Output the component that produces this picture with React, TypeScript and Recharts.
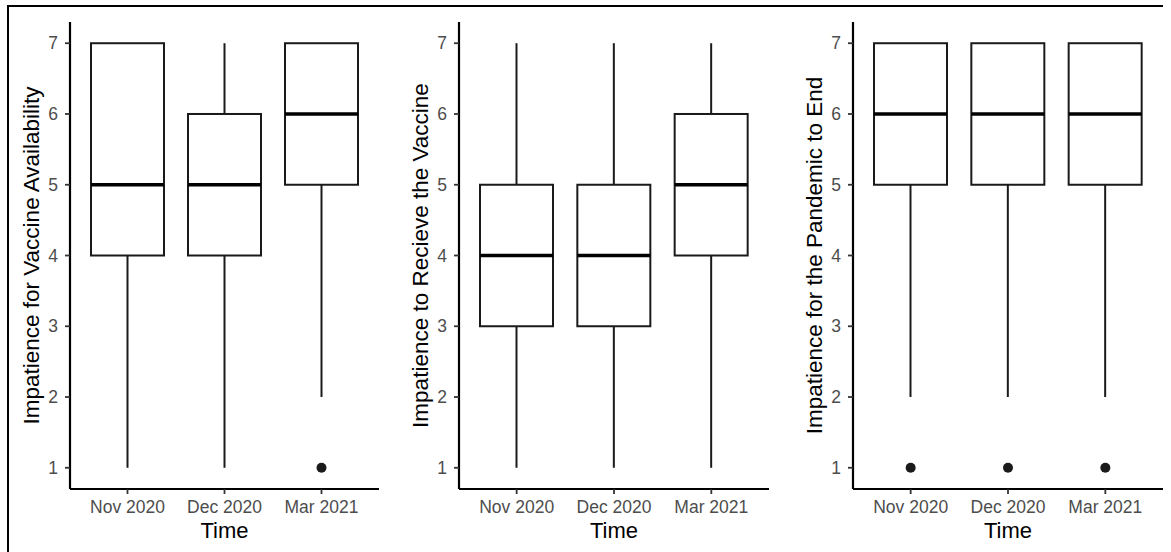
import React from 'react';
import { ComposedChart, Bar, Scatter, XAxis, YAxis } from 'recharts';

const categories = ['Nov 2020', 'Dec 2020', 'Mar 2021'];
const yTicks = [1, 2, 3, 4, 5, 6, 7];
const yDomain: [number, number] = [0.7, 7.3];

// Panel 1: Impatience for Vaccine Availability
const availLow = [1, 1, 2];
const availQ1 = [4, 4, 5];
const availMedian = [5, 5, 6];
const availQ3 = [7, 6, 7];
const availHigh = [7, 7, 7];
const availOutlier: (number | null)[] = [null, null, 1];

// Panel 2: Impatience to Recieve the Vaccine
const receiveLow = [1, 1, 1];
const receiveQ1 = [3, 3, 4];
const receiveMedian = [4, 4, 5];
const receiveQ3 = [5, 5, 6];
const receiveHigh = [7, 7, 7];
const receiveOutlier: (number | null)[] = [null, null, null];

// Panel 3: Impatience for the Pandemic to End
const endLow = [2, 2, 2];
const endQ1 = [5, 5, 5];
const endMedian = [6, 6, 6];
const endQ3 = [7, 7, 7];
const endHigh = [7, 7, 7];
const endOutlier: (number | null)[] = [1, 1, 1];

const buildRows = (
  low: number[],
  q1: number[],
  median: number[],
  q3: number[],
  high: number[],
  outlier: (number | null)[]
) =>
  categories.map((time, i) => ({
    time,
    range: [low[i], high[i]],
    low: low[i],
    high: high[i],
    q1: q1[i],
    median: median[i],
    q3: q3[i],
    outlier: outlier[i],
  }));

const availData = buildRows(availLow, availQ1, availMedian, availQ3, availHigh, availOutlier);
const receiveData = buildRows(receiveLow, receiveQ1, receiveMedian, receiveQ3, receiveHigh, receiveOutlier);
const endData = buildRows(endLow, endQ1, endMedian, endQ3, endHigh, endOutlier);

const INK = '#1a1a1a';

const BoxShape = (props: any) => {
  const { x, y, width, height, payload } = props;
  if (x == null || y == null || payload == null) return <g />;
  const lo = payload.low;
  const hi = payload.high;
  const py = (v: number) => y + (height * (hi - v)) / (hi - lo);
  const cx = x + width / 2;
  const top = py(payload.q3);
  const bot = py(payload.q1);
  const med = py(payload.median);
  return (
    <g>
      {hi > payload.q3 && (
        <line x1={cx} x2={cx} y1={py(hi)} y2={top} stroke={INK} strokeWidth={2} />
      )}
      {lo < payload.q1 && (
        <line x1={cx} x2={cx} y1={bot} y2={py(lo)} stroke={INK} strokeWidth={2} />
      )}
      <rect x={x} y={top} width={width} height={bot - top} fill="#fff" stroke={INK} strokeWidth={2} />
      <line x1={x} x2={x + width} y1={med} y2={med} stroke="#000" strokeWidth={3.5} />
    </g>
  );
};

const OutlierDot = (props: any) => {
  const { cx, cy, payload } = props;
  if (payload == null || payload.outlier == null || cx == null || cy == null || isNaN(cy)) return <g />;
  return <circle cx={cx} cy={cy} r={5} fill={INK} />;
};

const Panel = ({ data, title, left, width }: { data: any[]; title: string; left: number; width: number }) => (
  <div style={{ position: 'absolute', left, top: 0 }}>
    <ComposedChart width={width} height={552} data={data} margin={{ top: 22, right: 0, bottom: 8, left: 0 }}>
      <XAxis
        dataKey="time"
        type="category"
        interval={0}
        padding={{ left: 9, right: 9 }}
        height={55}
        tickSize={5}
        tickMargin={7}
        axisLine={{ stroke: '#000', strokeWidth: 2.2 }}
        tickLine={{ stroke: '#333', strokeWidth: 1.8 }}
        tick={{ fill: '#4d4d4d', fontSize: 17.5 }}
        label={{ value: 'Time', position: 'insideBottom', offset: 6, fill: '#000', fontSize: 22 }}
      />
      <YAxis
        type="number"
        domain={yDomain}
        ticks={yTicks}
        width={58}
        tickSize={5}
        tickMargin={7}
        axisLine={{ stroke: '#000', strokeWidth: 2.2 }}
        tickLine={{ stroke: '#333', strokeWidth: 1.8 }}
        tick={{ fill: '#4d4d4d', fontSize: 17.5 }}
        label={{
          value: title,
          angle: -90,
          position: 'insideLeft',
          offset: 19.5,
          fill: '#000',
          fontSize: 22.5,
          style: { textAnchor: 'middle' },
        }}
      />
      <Bar dataKey="range" barSize={73} shape={BoxShape} isAnimationActive={false} />
      <Scatter dataKey="outlier" shape={OutlierDot} isAnimationActive={false} />
    </ComposedChart>
  </div>
);

export default function App() {
  return (
    <div
      style={{
        position: 'fixed',
        top: 0,
        left: 0,
        width: 1171,
        height: 552,
        background: '#fff',
        overflow: 'hidden',
        fontFamily: '"Liberation Sans", Arial, sans-serif',
      }}
    >
      <div
        style={{
          position: 'absolute',
          left: 7,
          top: 5,
          width: 1156,
          height: 560,
          borderTop: '2.5px solid #000',
          borderLeft: '2.5px solid #000',
          boxSizing: 'border-box',
        }}
      />
      <Panel data={availData} title="Impatience for Vaccine Availability" left={12} width={367} />
      <Panel data={receiveData} title="Impatience to Recieve the Vaccine" left={401} width={368} />
      <Panel data={endData} title="Impatience for the Pandemic to End" left={795} width={368} />
    </div>
  );
}
